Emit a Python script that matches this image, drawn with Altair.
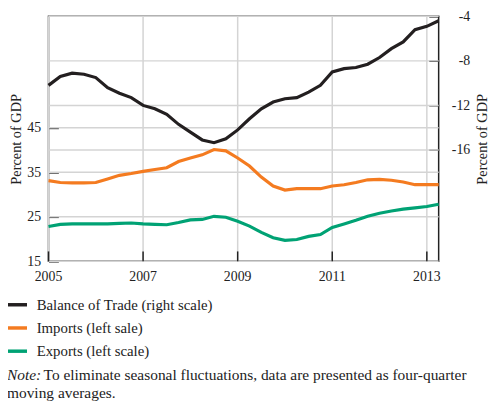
import altair as alt
import pandas as pd

# Quarterly observations (decimal years)
years = [2005.0, 2005.25, 2005.5, 2005.75, 2006.0, 2006.25, 2006.5, 2006.75,
         2007.0, 2007.25, 2007.5, 2007.75, 2008.0, 2008.25, 2008.5, 2008.75,
         2009.0, 2009.25, 2009.5, 2009.75, 2010.0, 2010.25, 2010.5, 2010.75,
         2011.0, 2011.25, 2011.5, 2011.75, 2012.0, 2012.25, 2012.5, 2012.75,
         2013.0, 2013.25]

balance = [-10.2, -9.4, -9.1, -9.2, -9.5, -10.4, -10.9, -11.3, -12.0, -12.3,
           -12.8, -13.7, -14.4, -15.1, -15.35, -15.0, -14.2, -13.2, -12.3, -11.7,
           -11.4, -11.3, -10.8, -10.2, -9.0, -8.7, -8.6, -8.3, -7.7, -6.9,
           -6.3, -5.2, -4.9, -4.4]

imports = [33.1, 32.7, 32.6, 32.6, 32.7, 33.5, 34.3, 34.7, 35.2, 35.6,
           36.0, 37.4, 38.2, 38.9, 40.1, 39.8, 38.2, 36.4, 33.9, 31.9,
           31.0, 31.3, 31.3, 31.3, 31.9, 32.2, 32.7, 33.3, 33.4, 33.2,
           32.8, 32.2, 32.2, 32.2]

exports = [22.8, 23.3, 23.4, 23.4, 23.4, 23.4, 23.5, 23.6, 23.4, 23.3,
           23.2, 23.7, 24.3, 24.4, 25.1, 24.9, 24.0, 22.9, 21.5, 20.3,
           19.7, 19.9, 20.6, 21.0, 22.6, 23.4, 24.2, 25.1, 25.8, 26.3,
           26.7, 27.0, 27.3, 27.8]

series_names = ["Balance of Trade (right scale)", "Imports (left sale)", "Exports (left scale)"]
series_colors = ["#231f20", "#f47b20", "#00a274"]

x_ticks = [2005, 2007, 2009, 2011, 2013]
x_tick_labels = ["2005", "2007", "2009", "2011", "2013"]
left_ticks = [15, 25, 35, 45]
right_ticks = [-4, -8, -12, -16]

note_head = ["Note:"]
note_line1 = ["To eliminate seasonal fluctuations, data are presented as four-quarter"]
note_line2 = ["moving averages."]

FONT = "Liberation Serif"
INK = "#222222"
GRID = "#d4d4d4"
INWARD = {"expr": "-10"}  # y-axis ticks drawn into the plot

X_DOMAIN = [2005, 2013.25]
LEFT_DOMAIN = [15, 70]
RIGHT_DOMAIN = [-26, -4]
PLOT_W, PLOT_H = 395, 248

left_df = pd.DataFrame({
    "year": years + years,
    "value": imports + exports,
    "series": [series_names[1]] * len(years) + [series_names[2]] * len(years),
})
right_df = pd.DataFrame({"year": years, "value": balance, "series": [series_names[0]] * len(years)})

x_scale = alt.Scale(domain=X_DOMAIN, nice=False, zero=False)
left_scale = alt.Scale(domain=LEFT_DOMAIN, nice=False, zero=False)
right_scale = alt.Scale(domain=RIGHT_DOMAIN, nice=False, zero=False)

x_enc = alt.X("year:Q", scale=x_scale, axis=None)

# ---- grid lines, drawn from the tick values through the chart's scales ----
lgrid = alt.Chart(pd.DataFrame({"g": left_ticks})).mark_tick(
    color=GRID, thickness=1.5, size=PLOT_W, orient="horizontal", opacity=1
).encode(y=alt.Y("g:Q", scale=left_scale, axis=None))

rgrid = alt.Chart(pd.DataFrame({"g": right_ticks})).mark_tick(
    color=GRID, thickness=1.5, size=PLOT_W, orient="horizontal", opacity=1
).encode(y=alt.Y("g:Q", scale=right_scale, axis=None))

vgrid = alt.Chart(pd.DataFrame({"g": x_ticks})).mark_tick(
    color=GRID, thickness=1.5, size=PLOT_H, orient="vertical", opacity=1
).encode(x=alt.X("g:Q", scale=x_scale, axis=None))

# ---- x axis: inward ticks and labels placed by the x scale ----
xtick_df = pd.DataFrame({"t": x_ticks, "label": x_tick_labels})
xticks = alt.Chart(xtick_df).mark_rule(color=INK, strokeWidth=1.5).encode(
    x=alt.X("t:Q", scale=x_scale, axis=None), y=alt.value(PLOT_H - 10), y2=alt.value(PLOT_H)
)
xlabels = alt.Chart(xtick_df).mark_text(
    font=FONT, fontSize=14, color=INK, align="center", baseline="alphabetic"
).encode(x=alt.X("t:Q", scale=x_scale, axis=None), y=alt.value(PLOT_H + 19.5), text="label:N")

color_enc = alt.Color(
    "series:N",
    scale=alt.Scale(domain=series_names, range=series_colors),
    sort=series_names,
    legend=alt.Legend(
        title=None, orient="none", legendX=-44, legendY=280, symbolType="stroke",
        symbolSize=420, symbolStrokeWidth=3.5, labelFont=FONT, labelFontSize=15,
        labelColor=INK, labelOffset=8, rowPadding=3.5, labelLimit=500,
    ),
)

left = alt.Chart(left_df).mark_line(strokeWidth=3.2).encode(
    x=x_enc,
    y=alt.Y(
        "value:Q",
        scale=left_scale,
        axis=alt.Axis(
            values=left_ticks, title="Percent of GDP", orient="left",
            tickSize=INWARD, tickWidth=1.5, tickColor=INK, domain=False, labelPadding=18,
            labelFont=FONT, labelFontSize=14, labelColor=INK, labelFlush=False,
            labelOverlap=False, grid=False,
            titleFont=FONT, titleFontSize=14.5, titleFontWeight="normal",
            titleColor=INK, titlePadding=3,
        ),
    ),
    color=color_enc,
    detail="series:N",
)

right = alt.Chart(right_df).mark_line(strokeWidth=3.2).encode(
    x=x_enc,
    y=alt.Y(
        "value:Q",
        scale=right_scale,
        axis=alt.Axis(
            values=right_ticks, title="Percent of GDP", orient="right",
            tickSize=INWARD, tickWidth=1.5, tickColor=INK, domain=False, labelPadding=41.5,
            labelAlign="right", labelExpr="'' + datum.value", labelFont=FONT,
            labelFontSize=14, labelColor=INK, labelFlush=False, labelOverlap=False,
            grid=False,
            titleFont=FONT, titleFontSize=14.5, titleFontWeight="normal",
            titleColor=INK, titlePadding=6, titleAngle=270, titleBaseline="top",
        ),
    ),
    color=color_enc,
)

note_a = alt.Chart(pd.DataFrame({"t": note_head})).mark_text(
    font=FONT, fontSize=15.6, fontStyle="italic", align="left", baseline="alphabetic", color=INK
).encode(x=alt.value(-42), y=alt.value(368.5), text="t:N")

note_b = alt.Chart(pd.DataFrame({"t": note_line1})).mark_text(
    font=FONT, fontSize=15.6, align="left", baseline="alphabetic", color=INK
).encode(x=alt.value(-5), y=alt.value(368.5), text="t:N")

note_c = alt.Chart(pd.DataFrame({"t": note_line2})).mark_text(
    font=FONT, fontSize=15.6, align="left", baseline="alphabetic", color=INK
).encode(x=alt.value(-42), y=alt.value(386.5), text="t:N")

chart = (
    alt.layer(vgrid, lgrid, rgrid, xticks, xlabels, left, right, note_a, note_b, note_c)
    .resolve_scale(y="independent")
    .properties(
        width=PLOT_W,
        height=PLOT_H,
        autosize=alt.AutoSizeParams(type="none"),
        padding={"left": 41, "top": 6, "right": 54, "bottom": 140},
        background="white",
    )
    .configure_view(stroke=INK, strokeWidth=1.5)
)

chart.save("out.html", embed_options={"renderer": "svg", "actions": False})
